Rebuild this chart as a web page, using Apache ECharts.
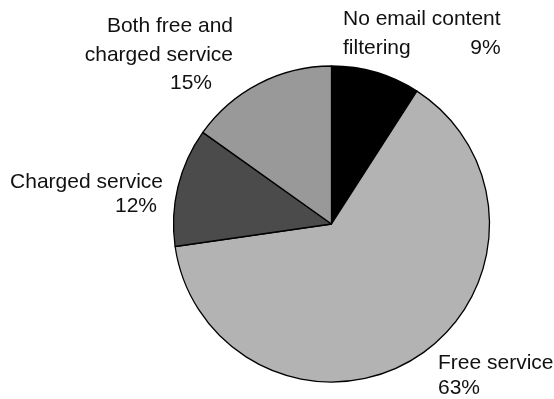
<!DOCTYPE html>
<html>
<head>
<meta charset="utf-8">
<script src="https://cdn.jsdelivr.net/npm/echarts@6/dist/echarts.min.js"></script>
<style>
  html, body { margin: 0; padding: 0; background: #ffffff; }
  #chart { width: 554px; height: 399px; }
</style>
</head>
<body>
<div id="chart"></div>
<script>
// Email content filtering: how the service is provided
const categories = ['No email content filtering', 'Free service', 'Charged service', 'Both free and charged service'];
const shares = [9, 63, 12, 15];
// label text, broken into lines as printed beside each slice
const labelLines = [
  ['No email content', 'filtering'],
  ['Free service'],
  ['Charged service'],
  ['Both free and', 'charged service']
];
const sliceColors = ['#000000', '#b3b3b3', '#4b4b4b', '#999999'];

// where each label block sits and how its lines are spaced
const labelPlacement = [
  { x: 343, y: 5,   align: 'left',  lineHeight: 28.5, pctPad: 0,  pctInline: true },
  { x: 438, y: 351, align: 'left',  lineHeight: 25,   pctPad: 0,  pctInline: false },
  { x: 163, y: 170, align: 'right', lineHeight: 24,   pctPad: 6,  pctInline: false },
  { x: 233, y: 12,  align: 'right', lineHeight: 28.5, pctPad: 21, pctInline: false }
];

const FONT = '"Liberation Sans", Arial, Helvetica, sans-serif';

const pieData = categories.map(function (name, i) {
  const pl = labelPlacement[i];
  const lines = labelLines[i].map(function (s) { return '{t|' + s + '}'; });
  const pct = '{p|' + shares[i] + '%}';
  let text;
  if (pl.pctInline) {
    lines[lines.length - 1] += pct;
    text = lines.join('\n');
  } else {
    text = lines.concat([pct]).join('\n');
  }
  return {
    name: name,
    value: shares[i],
    itemStyle: { color: sliceColors[i] },
    label: {
      formatter: text,
      align: pl.align,
      rich: {
        t: { fontSize: 21, fontFamily: FONT, color: '#111', lineHeight: pl.lineHeight, align: pl.align },
        p: {
          fontSize: 21, fontFamily: FONT, color: '#111', lineHeight: pl.lineHeight,
          align: pl.pctInline ? 'right' : pl.align,
          padding: [0, pl.pctPad, 0, 0]
        }
      }
    }
  };
});

const chart = echarts.init(document.getElementById('chart'), null, { renderer: 'canvas' });
chart.setOption({
  backgroundColor: '#ffffff',
  animation: false,
  series: [{
    type: 'pie',
    center: [331.5, 224],
    radius: 158,
    startAngle: 90,
    clockwise: true,
    avoidLabelOverlap: false,
    silent: true,
    itemStyle: { borderColor: '#000000', borderWidth: 1.3 },
    label: { show: true, position: 'outside', fontFamily: FONT, fontSize: 21 },
    labelLine: { show: false },
    labelLayout: function (params) {
      const pl = labelPlacement[params.dataIndex];
      return { x: pl.x, y: pl.y, align: pl.align, verticalAlign: 'top' };
    },
    data: pieData
  }]
});
</script>
</body>
</html>
